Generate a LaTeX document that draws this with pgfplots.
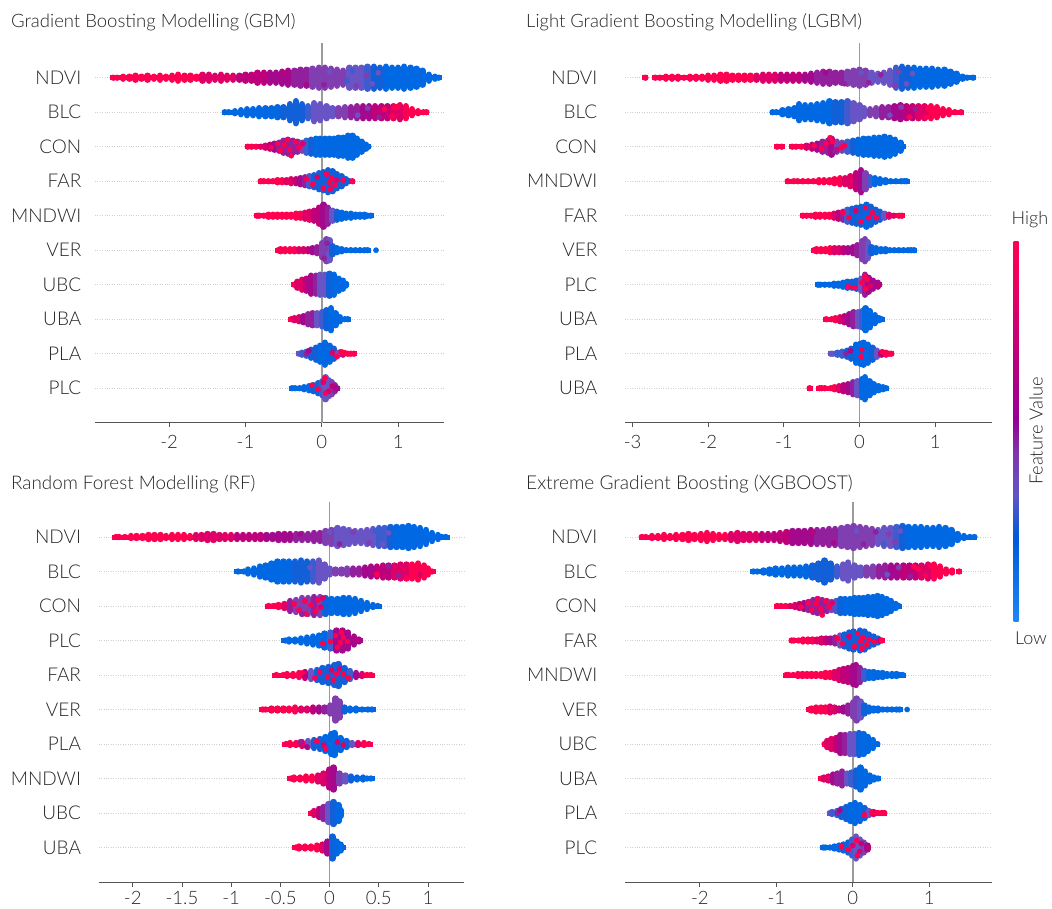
\documentclass[border=0pt]{standalone}
\usepackage{pgfplots}
\pgfplotsset{compat=1.18}
\usepackage{fontspec}
\setmainfont{Lato}[UprightFont=* Light]
\definecolor{c0}{RGB}{0,104,226}
\definecolor{c1}{RGB}{18,96,216}
\definecolor{c2}{RGB}{60,92,208}
\definecolor{c3}{RGB}{104,84,196}
\definecolor{c4}{RGB}{128,62,176}
\definecolor{c5}{RGB}{146,32,156}
\definecolor{c6}{RGB}{164,8,140}
\definecolor{c7}{RGB}{190,0,122}
\definecolor{c8}{RGB}{222,0,102}
\definecolor{c9}{RGB}{255,0,81}
\definecolor{axc}{RGB}{85,85,85}
\definecolor{zc}{RGB}{155,155,155}
\definecolor{b0}{RGB}{30,135,245}
\definecolor{b1}{RGB}{0,90,215}
\definecolor{b2}{RGB}{95,85,200}
\definecolor{b3}{RGB}{130,50,170}
\definecolor{b4}{RGB}{150,0,150}
\definecolor{b5}{RGB}{185,0,125}
\definecolor{b6}{RGB}{225,0,100}
\pgfplotsset{
 colormap={shapmap}{color(0)=(c0) color(1)=(c1) color(2)=(c2) color(3)=(c3) color(4)=(c4) color(5)=(c5) color(6)=(c6) color(7)=(c7) color(8)=(c8) color(9)=(c9)},
 swarmaxis/.style={
  scale only axis, height=380pt, ymin=0, ymax=380,
  point meta min=0, point meta max=9, colormap name=shapmap,
  axis x line*=bottom, axis y line*=left,
  y axis line style={draw=none},
  x axis line style={draw=axc,line width=.9pt,-},
  ytick={34.5,69,103.5,138,172.5,207,241.5,276,310.5,345},
  ymajorgrids, grid style={dash pattern=on .7pt off 1.7pt,line width=.7pt,gray!38},
  ytick style={draw=none}, xtick style={draw=axc,line width=.9pt},
  tick align=outside, major tick length=4.5pt,
  yticklabel style={font=\fontsize{19}{19}\selectfont,text=black!85,inner sep=0pt},
  xticklabel style={font=\fontsize{18.5}{19}\selectfont,text=black!85,inner sep=0pt},
  /pgf/number format/assume math mode=true,
  axis on top=false, clip=false, anchor=south west,
 },
}
\newcommand\swarm[2]{%
\addplot[point meta=explicit,quiver={u=.08,v=0,colored=mapped color,every arrow/.append style={-,line width=5pt,line cap=butt}}] table[row sep=\\,header=false,x expr={\thisrowno{0}-.04},y expr={#1*34.5},meta index=2] {#2};
\addplot[point meta=explicit,quiver={u=0,v=2*\thisrowno{1},colored=mapped color,every arrow/.append style={-,line width=6.4pt,line cap=round}}] table[row sep=\\,header=false,x index=0,y expr={#1*34.5-\thisrowno{1}},meta index=2] {#2};}
\newcommand\spk[2]{\addplot[scatter,only marks,mark=*,mark size=2.6pt,point meta=explicit,scatter/use mapped color={draw=mapped color,fill=mapped color}] table[row sep=\\,header=false,x index=0,y expr={#1*34.5+\thisrowno{1}},meta index=2] {#2};}
\newcommand\zline{\addplot[draw=zc,line width=1.8pt] coordinates {(0,0) (0,380)};}
\pgfdeclareverticalshading{fvbar}{100bp}{color(0bp)=(b0); color(25bp)=(b0); color(36bp)=(b1); color(41.5bp)=(b2); color(47.5bp)=(b3); color(51.5bp)=(b4); color(59.5bp)=(b5); color(67.5bp)=(b6); color(75bp)=(c9); color(100bp)=(c9)}
\begin{document}
\begin{tikzpicture}[x=1pt,y=1pt]
\path[use as bounding box] (0,0) rectangle (1052,-908);
\node[anchor=base west,inner sep=0pt,text=black!85] at (11,-27) {\fontsize{18.5}{19}\selectfont Gradient Boosting Modelling (GBM)};
\node[anchor=base west,inner sep=0pt,text=black!85] at (526,-27) {\fontsize{18.4}{19}\selectfont Light Gradient Boosting Modelling (LGBM)};
\node[anchor=base west,inner sep=0pt,text=black!85] at (11,-489) {\fontsize{18.8}{19}\selectfont Random Forest Modelling (RF)};
\node[anchor=base west,inner sep=0pt,text=black!85] at (526,-489) {\fontsize{19.1}{19}\selectfont Extreme Gradient Boosting (XGBOOST)};
% GBM
\begin{axis}[swarmaxis,at={(95pt,-422.7pt)},width=349pt,xmin=-2.97,xmax=1.6,xtick={-2,-1,0,1},
 xticklabel style={yshift=-7.5pt},
 yticklabels={PLC,PLA,UBA,UBC,VER,MNDWI,FAR,CON,BLC,NDVI},yticklabel style={xshift=-9pt}]
\zline
\swarm{10}{-2.73 0 9\\-2.68 0 9\\-2.6 1 9\\-2.52 1 9\\-2.44 2 9\\-2.36 1 9\\-2.28 2 9\\-2.2 1 9\\-2.12 2 9\\-2.04 1 9\\-1.96 2 9\\-1.88 3 9\\-1.8 2 9\\-1.72 2 9\\-1.64 1 9\\-1.56 3 8\\-1.48 3 8\\-1.4 2 8\\-1.32 3 8\\-1.24 2 8\\-1.16 2 8\\-1.08 2 7\\-1 3 7\\-.92 3 7\\-.84 5 7\\-.76 5 7\\-.68 5 6\\-.6 5 6\\-.52 6 6\\-.44 7 6\\-.36 7 5\\-.28 8 5\\-.2 8 5\\-.12 9 4\\-.04 10 4\\.04 10 4\\.12 9 4\\.2 8 4\\.28 7 4\\.36 10 3\\.44 10 3\\.52 10 3\\.6 11 2\\.68 11 1\\.76 10 1\\.84 11 0\\.92 10 0\\1 10 0\\1.08 11 0\\1.16 10 0\\1.24 9 0\\1.32 7 0\\1.4 3 0\\1.48 1 0\\1.53 0 0\\}
\spk{10}{-.5 5 7\\-.2 -7 6\\.1 6 3\\.03 -7 5\\.33 -3 2\\.4 7 2\\.45 -8 4\\.58 2 4\\.66 -6 3\\.74 5 3\\}
\swarm{9}{-1.27 0 0\\-1.22 0 0\\-1.14 1 0\\-1.06 2 0\\-.98 3 0\\-.9 3 0\\-.82 4 0\\-.74 4 0\\-.66 4 0\\-.58 5 0\\-.5 5 1\\-.42 8 1\\-.34 11 1\\-.26 8 1\\-.18 6 2\\-.1 9 3\\-.02 8 3\\.06 6 3\\.14 4 3\\.22 4 4\\.3 5 4\\.38 5 5\\.46 6 5\\.54 6 6\\.62 6 6\\.7 6 7\\.78 6 7\\.86 6 7\\.94 6 8\\1.02 7 8\\1.1 6 9\\1.18 3 9\\1.26 1 9\\1.33 0 9\\1.37 0 9\\}
\spk{9}{.47 -3 3\\.6 4 4\\.75 -5 5\\.82 3 9\\.92 -4 9\\1 6 9\\.95 5 9\\}
\swarm{8}{-.97 0 9\\-.92 0 9\\-.86 0 9\\-.8 0 8\\-.74 1 8\\-.68 2 7\\-.62 3 6\\-.56 4 5\\-.5 6 5\\-.44 7 5\\-.38 6 5\\-.32 5 5\\-.26 4 4\\-.2 6 2\\-.14 7 1\\-.08 8 0\\-.02 8 0\\.04 8 0\\.1 8 0\\.16 8 0\\.22 9 0\\.28 9 0\\.34 11 0\\.4 11 0\\.46 8 0\\.52 5 0\\.58 2 0\\.61 0 0\\}
\spk{8}{-.66 -1 9\\-.58 3 9\\-.54 -4 9\\-.49 2 9\\-.45 7 9\\-.42 -3 9\\-.4 -9 9\\-.34 5 9\\-.3 -1 9\\-.25 3 8\\}
\swarm{7}{-.8 0 9\\-.76 0 9\\-.7 0 9\\-.64 0 9\\-.58 1 9\\-.52 1 9\\-.46 1 8\\-.4 2 8\\-.34 2 7\\-.28 3 6\\-.22 4 5\\-.16 5 2\\-.1 6 1\\-.04 8 1\\.02 9 1\\.08 11 1\\.14 10 1\\.2 7 1\\.26 5 1\\.32 2 1\\.36 0 1\\.4 0 9\\}
\spk{7}{-.2 2 9\\-.12 -3 9\\-.06 4 8\\.02 -7 9\\.06 7 9\\.1 -1 9\\.13 3 9\\.11 -8 9\\.17 -4 9\\.19 1 8\\.28 1 9\\}
\swarm{6}{-.85 0 9\\-.82 0 9\\-.76 0 9\\-.7 1 9\\-.64 1 9\\-.58 1 9\\-.52 1 9\\-.46 1 9\\-.4 1 9\\-.34 2 9\\-.28 2 9\\-.22 3 8\\-.16 4 8\\-.1 5 7\\-.04 8 7\\.02 11 6\\.08 8 5\\.14 5 3\\.2 4 1\\.26 3 0\\.32 2 0\\.38 2 0\\.44 1 0\\.5 1 0\\.56 1 0\\.6 0 0\\.64 0 0\\}
\swarm{5}{-.57 0 9\\-.54 1 9\\-.48 1 9\\-.42 1 9\\-.36 1 9\\-.3 1 8\\-.24 1 8\\-.18 1 7\\-.12 2 6\\-.06 3 5\\0 7 4\\.06 11 4\\.1 10 3\\.14 4 1\\.2 2 0\\.26 1 0\\.32 0 0\\.38 0 0\\.44 0 0\\.5 0 0\\.56 0 0\\.6 0 0\\}
\spk{5}{.71 0 0\\.03 -8 5\\.07 7 5\\.05 1 4\\}
\swarm{4}{-.36 0 9\\-.32 3 8\\-.26 5 8\\-.2 6 7\\-.14 9 6\\-.08 9 5\\-.02 10 3\\.04 10 3\\.1 11 1\\.16 10 0\\.22 6 0\\.28 4 0\\.31 1 0\\}
\swarm{3}{-.4 0 9\\-.36 1 8\\-.3 2 8\\-.24 3 6\\-.18 5 5\\-.12 6 5\\-.06 6 3\\0 7 2\\.06 9 1\\.12 11 0\\.18 6 0\\.24 2 0\\.3 0 0\\.34 0 0\\}
\swarm{2}{-.3 0 3\\-.26 1 2\\-.2 2 2\\-.14 4 1\\-.08 6 1\\-.02 8 0\\.04 11 0\\.1 8 0\\.16 5 1\\.22 1 3\\.28 1 8\\.34 0 9\\.38 0 9\\.42 0 9\\}
\spk{2}{-.2 0 5\\-.17 3 6\\.14 1 8\\.25 2 9\\.2 -3 9\\.3 1 9\\}
\swarm{1}{-.39 0 0\\-.35 0 0\\-.29 0 0\\-.23 1 0\\-.17 2 0\\-.11 3 1\\-.05 5 1\\.01 7 2\\.05 11 3\\.09 8 3\\.13 6 4\\.17 3 5\\.2 0 6\\}
\spk{1}{-.13 3 9\\-.05 -1 9\\.02 6 8\\.05 -5 9\\.09 -3 8\\.14 2 7\\.04 10 9\\}
\end{axis}
% LGBM
\begin{axis}[swarmaxis,at={(625pt,-422.7pt)},width=367pt,xmin=-3.1,xmax=1.75,xtick={-3,-2,-1,0,1},
 xticklabel style={yshift=-7.5pt},
 yticklabels={UBA,PLA,UBA,PLC,VER,FAR,MNDWI,CON,BLC,NDVI},yticklabel style={xshift=-23pt}]
\zline
\swarm{10}{-2.83 0 9\\-2.7 0 9\\-2.64 0 9\\-2.56 1 9\\-2.48 1 9\\-2.4 1 9\\-2.32 0 9\\-2.24 1 9\\-2.16 1 9\\-2.08 1 9\\-2 2 9\\-1.92 2 9\\-1.84 3 9\\-1.76 3 9\\-1.68 2 9\\-1.6 2 9\\-1.52 2 9\\-1.44 2 9\\-1.36 2 8\\-1.28 3 8\\-1.2 3 8\\-1.12 3 8\\-1.04 3 7\\-.96 3 7\\-.88 3 7\\-.8 3 7\\-.72 3 6\\-.64 4 6\\-.56 5 5\\-.48 6 5\\-.4 6 5\\-.32 5 5\\-.24 5 5\\-.16 6 4\\-.08 7 4\\0 8 4\\.08 7 4\\.16 5 3\\.24 4 3\\.32 5 3\\.4 7 3\\.48 10 2\\.56 11 1\\.64 10 1\\.72 10 0\\.8 9 0\\.88 9 0\\.96 9 0\\1.04 8 0\\1.12 8 0\\1.2 6 0\\1.28 4 0\\1.36 1 0\\1.42 0 0\\1.5 0 0\\}
\spk{10}{-.45 5 6\\-.2 -6 5\\.02 5 3\\.12 -5 5\\.28 3 5\\.46 -8 4\\.52 6 4\\.62 -6 3\\.7 4 3\\}
\swarm{9}{-1.15 0 0\\-1.1 0 0\\-1.02 2 0\\-.94 3 0\\-.86 4 0\\-.8 8 0\\-.72 7 0\\-.64 7 0\\-.56 8 0\\-.48 9 0\\-.4 11 0\\-.32 10 1\\-.24 10 1\\-.16 11 2\\-.08 9 3\\0 7 3\\.06 4 3\\.14 3 4\\.22 4 4\\.3 5 5\\.38 5 5\\.46 6 6\\.54 7 6\\.62 6 7\\.7 6 7\\.78 6 8\\.86 6 8\\.94 6 9\\1.02 5 9\\1.1 3 9\\1.18 2 9\\1.26 0 9\\1.34 0 9\\}
\spk{9}{.4 -3 3\\.55 5 4\\.66 -5 9\\.74 3 5\\.88 -5 9\\.9 4 9\\}
\swarm{8}{-1.09 0 9\\-1.03 0 9\\-.89 0 9\\-.84 0 9\\-.77 0 9\\-.7 1 8\\-.63 2 7\\-.56 3 6\\-.49 5 5\\-.42 6 5\\-.37 8 6\\-.3 5 4\\-.23 4 4\\-.16 5 2\\-.09 6 1\\-.02 7 0\\.05 8 0\\.12 8 0\\.19 9 0\\.26 9 0\\.33 10 0\\.4 9 0\\.47 7 0\\.54 4 0\\.57 0 0\\}
\spk{8}{-.6 1 9\\-.5 -2 9\\-.44 3 9\\-.39 9 9\\-.36 5 9\\-.3 -3 8\\-.24 -1 9\\-.2 1 9\\-.33 -5 5\\}
\swarm{7}{-.95 0 9\\-.87 0 9\\-.82 0 9\\-.75 0 9\\-.68 0 9\\-.61 0 9\\-.54 1 9\\-.47 1 9\\-.4 1 9\\-.33 2 9\\-.26 3 9\\-.19 3 8\\-.12 5 8\\-.05 8 7\\.02 11 6\\.08 8 4\\.14 4 2\\.2 3 0\\.27 2 0\\.34 1 0\\.41 0 0\\.48 0 0\\.55 0 0\\.59 0 0\\.62 0 0\\}
\swarm{6}{-.75 0 9\\-.7 0 9\\-.64 0 9\\-.58 1 9\\-.52 1 9\\-.46 1 9\\-.4 1 9\\-.34 2 8\\-.28 3 7\\-.22 4 5\\-.16 6 2\\-.1 7 1\\-.04 8 1\\.02 9 1\\.09 11 0\\.15 9 1\\.21 6 1\\.27 4 1\\.33 2 3\\.39 1 8\\.45 0 8\\.52 0 9\\.56 0 9\\}
\spk{6}{-.22 3 9\\-.14 -2 9\\-.05 5 8\\.02 -6 9\\.08 8 9\\.12 -2 9\\.17 3 9\\.22 -2 9\\}
\swarm{5}{-.6 0 9\\-.57 1 9\\-.51 1 9\\-.45 1 9\\-.39 2 9\\-.33 2 8\\-.27 2 8\\-.21 2 7\\-.15 2 6\\-.09 3 6\\-.03 5 5\\.03 9 4\\.07 11 4\\.11 8 3\\.16 3 1\\.22 2 0\\.28 1 0\\.34 1 0\\.4 0 0\\.46 0 0\\.52 0 0\\.58 0 0\\.64 0 0\\.68 0 0\\.72 0 0\\}
\swarm{4}{-.55 0 0\\-.52 0 0\\-.46 0 0\\-.4 0 0\\-.34 1 0\\-.28 1 0\\-.22 2 0\\-.16 3 0\\-.1 3 1\\-.04 4 1\\.02 6 3\\.07 10 5\\.12 7 6\\.18 4 6\\.24 2 6\\.26 0 7\\}
\spk{4}{-.15 -2 9\\-.07 -3 9\\.03 2 9\\.08 -4 9\\.1 5 9\\.14 -1 8\\.07 8 9\\}
\swarm{3}{-.44 0 9\\-.37 0 9\\-.32 1 9\\-.26 2 8\\-.2 3 7\\-.14 5 6\\-.08 7 5\\-.02 7 3\\.03 8 2\\.08 11 0\\.14 8 0\\.2 4 0\\.26 1 0\\.29 0 0\\}
\swarm{2}{-.38 0 3\\-.35 0 3\\-.29 1 2\\-.23 2 2\\-.17 3 1\\-.11 5 1\\-.05 9 0\\.01 10 0\\.05 11 0\\.11 9 0\\.17 6 1\\.23 3 3\\.29 1 7\\.35 1 9\\.39 0 9\\.42 0 9\\}
\spk{2}{-.18 0 5\\-.12 3 6\\.02 -3 9\\.03 4 9\\.3 2 9\\}
\swarm{1}{-.66 0 9\\-.53 0 9\\-.5 0 9\\-.46 0 9\\-.38 0 9\\-.33 1 9\\-.27 2 8\\-.21 3 7\\-.15 4 6\\-.09 6 5\\-.03 7 3\\.03 9 0\\.07 11 0\\.13 7 0\\.19 4 0\\.25 2 0\\.31 1 0\\.35 0 0\\}
\end{axis}
% RF
\begin{axis}[swarmaxis,at={(98.7pt,-882pt)},width=365pt,xmin=-2.346,xmax=1.363,xtick={-2,-1.5,-1,-0.5,0,0.5,1},
 xticklabels={-2,-1.5,-1,-0.5,0,0.5,1},xticklabel style={yshift=-5pt},
 yticklabels={UBA,UBC,MNDWI,PLA,VER,FAR,PLC,CON,BLC,NDVI},yticklabel style={xshift=-13pt}]
\zline
\swarm{10}{-2.17 0 9\\-2.14 0 9\\-2.08 0 9\\-2.02 1 9\\-1.96 1 9\\-1.9 1 9\\-1.84 2 9\\-1.78 2 9\\-1.72 2 9\\-1.66 1 9\\-1.6 2 9\\-1.54 2 9\\-1.48 2 9\\-1.42 1 9\\-1.36 2 8\\-1.3 2 8\\-1.24 3 8\\-1.18 3 8\\-1.12 2 8\\-1.06 2 8\\-1 2 8\\-.94 2 7\\-.88 2 7\\-.82 2 7\\-.76 2 7\\-.7 2 7\\-.64 2 6\\-.58 2 6\\-.52 3 6\\-.46 3 6\\-.4 3 6\\-.34 3 5\\-.28 3 5\\-.22 3 5\\-.16 4 5\\-.1 4 5\\-.04 6 4\\.02 7 4\\.08 9 3\\.14 8 3\\.2 7 3\\.26 6 3\\.32 6 3\\.38 7 3\\.44 8 3\\.5 9 2\\.56 9 2\\.62 10 1\\.68 10 0\\.74 10 0\\.8 11 0\\.86 10 0\\.92 9 0\\.98 7 0\\1.04 4 0\\1.1 2 0\\1.14 0 0\\1.18 0 0\\}
\spk{10}{-.3 3 6\\.0 5 3\\.1 -7 5\\.24 5 4\\.4 -6 4\\.46 6 2\\.54 -7 3\\.6 4 3\\}
\swarm{9}{-.93 0 0\\-.87 0 0\\-.83 2 0\\-.77 3 0\\-.71 5 0\\-.65 6 0\\-.59 8 0\\-.53 10 0\\-.47 10 0\\-.41 10 0\\-.35 10 1\\-.29 11 1\\-.23 10 1\\-.17 10 2\\-.11 11 3\\-.05 7 3\\0 3 3\\.06 2 4\\.12 2 4\\.18 3 4\\.24 3 5\\.3 3 5\\.36 4 6\\.42 5 6\\.48 5 7\\.54 6 7\\.6 6 7\\.66 6 8\\.72 7 8\\.78 7 8\\.84 7 9\\.9 8 9\\.96 6 9\\1 3 9\\1.04 0 9\\}
\spk{9}{-.2 4 3\\.48 -3 9\\.6 5 5\\.7 -4 5\\.78 -7 9\\.82 5 9\\.92 -3 8\\}
\swarm{8}{-.62 0 9\\-.56 0 9\\-.52 1 9\\-.46 2 8\\-.4 5 5\\-.34 6 4\\-.28 8 4\\-.22 8 4\\-.16 9 5\\-.1 9 4\\-.04 8 1\\.02 7 0\\.08 7 0\\.14 8 0\\.2 8 0\\.26 7 0\\.32 5 0\\.38 3 0\\.44 1 0\\.49 0 0\\}
\spk{8}{-.58 0 9\\-.36 2 9\\-.31 -4 9\\-.25 5 9\\-.24 -8 9\\-.19 1 9\\-.14 -5 9\\-.12 6 9\\-.09 -1 8\\-.07 8 8\\-.28 -8 5\\}
\swarm{7}{-.45 0 0\\-.41 1 0\\-.35 1 0\\-.29 2 0\\-.23 3 0\\-.17 4 0\\-.11 5 0\\-.05 7 0\\.01 8 2\\.07 10 6\\.13 10 6\\.19 8 6\\.25 4 6\\.3 1 6\\}
\spk{7}{-.07 -3 9\\.01 -1 9\\.06 5 9\\.08 -7 9\\.11 -2 9\\.14 3 9\\.18 -1 9\\.12 8 9\\.28 1 7\\}
\swarm{6}{-.54 0 9\\-.47 0 9\\-.43 1 9\\-.37 1 9\\-.31 2 9\\-.25 3 7\\-.19 4 3\\-.13 5 1\\-.07 7 1\\-.01 8 1\\.05 10 1\\.09 11 1\\.15 7 1\\.21 4 2\\.27 2 6\\.33 1 8\\.38 0 9\\.42 0 9\\}
\spk{6}{-.28 2 9\\-.15 -3 9\\-.1 3 9\\-.02 -2 9\\.04 -5 9\\.07 1 9\\.1 6 8\\.14 1 9\\.19 -3 9\\.02 5 8\\}
\swarm{5}{-.68 0 9\\-.65 0 9\\-.59 1 9\\-.53 1 9\\-.47 1 9\\-.41 1 9\\-.35 2 9\\-.29 1 8\\-.23 1 8\\-.17 2 7\\-.11 2 6\\-.05 2 5\\.01 4 4\\.06 11 4\\.1 8 4\\.15 2 1\\.21 1 0\\.27 1 0\\.33 0 0\\.39 0 0\\.43 0 0\\}
\swarm{4}{-.44 0 9\\-.4 1 9\\-.34 1 9\\-.28 2 8\\-.22 3 3\\-.16 4 1\\-.1 5 1\\-.04 7 0\\.02 10 0\\.05 11 0\\.11 6 0\\.17 3 1\\.23 1 3\\.29 1 8\\.35 1 9\\.4 0 9\\}
\spk{4}{-.3 2 5\\-.23 -3 6\\-.13 3 9\\-.06 -1 8\\-.04 -5 9\\.08 2 8\\.14 -1 8\\}
\swarm{3}{-.39 0 9\\-.36 1 9\\-.3 1 9\\-.24 2 9\\-.18 2 9\\-.12 3 8\\-.06 5 8\\0 9 7\\.04 11 6\\.1 5 4\\.16 3 3\\.22 2 1\\.28 1 0\\.34 1 0\\.38 0 0\\.42 0 0\\}
\swarm{2}{-.18 0 9\\-.16 2 8\\-.11 4 7\\-.06 6 5\\-.01 9 3\\.04 11 1\\.09 8 0\\.11 3 0\\}
\swarm{1}{-.34 0 9\\-.31 1 9\\-.25 1 9\\-.19 1 9\\-.13 2 9\\-.07 3 8\\-.02 6 6\\.03 11 1\\.07 6 0\\.11 3 0\\.13 0 0\\}
\end{axis}
% XGB
\begin{axis}[swarmaxis,at={(625pt,-882pt)},width=367pt,xmin=-2.98,xmax=1.82,xtick={-2,-1,0,1},
 xticklabel style={yshift=-5pt},
 yticklabels={PLC,PLA,UBA,UBC,VER,MNDWI,FAR,CON,BLC,NDVI},yticklabel style={xshift=-23pt}]
\zline
\swarm{10}{-2.76 0 9\\-2.71 0 9\\-2.63 1 9\\-2.55 1 9\\-2.47 2 9\\-2.39 1 9\\-2.31 2 9\\-2.23 2 9\\-2.15 3 9\\-2.07 2 9\\-1.99 3 9\\-1.91 4 9\\-1.83 3 9\\-1.75 2 9\\-1.67 2 9\\-1.59 3 8\\-1.51 4 8\\-1.43 3 8\\-1.35 3 8\\-1.27 3 8\\-1.19 3 7\\-1.11 3 7\\-1.03 3 7\\-.95 4 7\\-.87 5 7\\-.79 6 6\\-.71 6 6\\-.63 6 6\\-.55 7 6\\-.47 7 5\\-.39 7 5\\-.31 8 5\\-.23 8 5\\-.15 9 4\\-.07 10 4\\.01 11 4\\.09 10 4\\.17 9 4\\.25 8 4\\.33 7 3\\.41 9 3\\.49 9 3\\.57 10 2\\.65 11 1\\.73 10 0\\.81 10 0\\.89 10 0\\.97 9 0\\1.05 9 0\\1.13 10 0\\1.21 9 0\\1.29 7 0\\1.37 3 0\\1.45 1 0\\1.53 0 0\\1.59 0 0\\}
\spk{10}{-.52 5 7\\-.25 -6 6\\.05 6 3\\.14 -7 5\\.3 5 5\\.4 -7 2\\.47 3 4\\.55 -5 4\\.62 6 3\\}
\swarm{9}{-1.3 0 0\\-1.25 0 0\\-1.17 1 0\\-1.09 2 0\\-1.01 3 0\\-.93 3 0\\-.85 4 0\\-.77 4 0\\-.69 4 0\\-.61 5 0\\-.53 6 1\\-.45 8 1\\-.37 11 1\\-.29 8 1\\-.21 5 2\\-.13 7 3\\-.06 9 3\\.02 6 3\\.1 4 3\\.18 4 4\\.26 5 4\\.34 5 5\\.42 6 5\\.5 6 6\\.58 6 6\\.66 6 7\\.74 6 7\\.82 6 7\\.9 6 8\\.98 7 8\\1.06 7 9\\1.14 5 9\\1.22 2 9\\1.3 1 9\\1.39 0 9\\}
\spk{9}{.45 -3 3\\.6 4 4\\.75 -5 5\\.85 3 9\\.95 -4 9\\1.02 6 9\\.8 5 9\\}
\swarm{8}{-.99 0 9\\-.94 0 9\\-.88 0 9\\-.82 0 8\\-.76 1 8\\-.7 2 7\\-.64 3 6\\-.58 4 5\\-.52 6 5\\-.46 7 5\\-.4 6 5\\-.34 5 5\\-.28 4 4\\-.22 5 2\\-.16 7 1\\-.1 7 0\\-.04 7 0\\.02 8 0\\.08 8 0\\.14 8 0\\.2 9 0\\.26 9 0\\.32 10 0\\.38 9 0\\.44 7 0\\.5 5 0\\.56 2 0\\.6 0 0\\}
\spk{8}{-.68 -1 9\\-.58 3 9\\-.54 -4 9\\-.48 2 9\\-.46 7 9\\-.42 -3 9\\-.4 -9 9\\-.35 5 9\\-.31 -1 9\\-.27 3 8\\}
\swarm{7}{-.8 0 9\\-.77 0 9\\-.71 0 9\\-.65 1 9\\-.59 1 9\\-.53 1 9\\-.47 1 8\\-.41 2 8\\-.35 2 7\\-.29 2 6\\-.23 3 5\\-.17 5 3\\-.11 6 1\\-.05 8 1\\.01 9 1\\.09 10 1\\.15 9 1\\.21 6 1\\.27 4 1\\.33 2 1\\.36 0 7\\.38 0 9\\}
\spk{7}{-.2 2 9\\-.14 -3 9\\-.05 4 8\\.02 -6 9\\.06 7 9\\.1 -1 9\\.13 3 9\\.12 -8 9\\.18 -4 9\\.21 1 9\\.28 -1 9\\}
\swarm{6}{-.87 0 9\\-.84 0 9\\-.78 0 9\\-.72 1 9\\-.66 1 9\\-.6 1 9\\-.54 1 9\\-.48 1 9\\-.42 1 9\\-.36 2 9\\-.3 2 9\\-.24 3 8\\-.18 5 8\\-.12 6 7\\-.06 7 7\\0 9 6\\.04 10 6\\.09 7 5\\.15 4 2\\.21 3 0\\.27 3 0\\.33 2 0\\.39 2 0\\.45 1 0\\.51 1 0\\.57 1 0\\.61 0 0\\.65 0 0\\}
\swarm{5}{-.57 0 9\\-.54 1 9\\-.48 2 9\\-.42 2 9\\-.36 2 9\\-.3 3 8\\-.24 2 8\\-.18 1 7\\-.12 2 6\\-.06 4 5\\0 7 4\\.05 11 4\\.1 8 3\\.15 4 1\\.21 2 0\\.27 1 0\\.33 1 0\\.39 0 0\\.45 0 0\\.51 0 0\\.57 0 0\\.61 0 0\\}
\spk{5}{.71 0 0\\}
\swarm{4}{-.37 0 9\\-.34 3 8\\-.28 5 8\\-.22 6 7\\-.16 9 6\\-.1 9 5\\-.04 10 3\\.02 10 3\\.08 11 1\\.14 10 0\\.2 7 0\\.26 4 0\\.32 0 0\\}
\swarm{3}{-.41 0 9\\-.38 1 8\\-.32 2 8\\-.26 4 6\\-.2 5 5\\-.14 7 5\\-.08 5 3\\-.02 6 2\\.04 8 1\\.1 11 0\\.16 7 0\\.22 3 0\\.28 1 0\\.33 0 0\\}
\swarm{2}{-.3 0 3\\-.27 1 2\\-.21 2 2\\-.15 4 1\\-.09 6 1\\-.03 8 0\\.03 10 0\\.09 8 0\\.15 5 1\\.21 2 3\\.27 1 8\\.33 0 9\\.38 0 9\\.41 0 9\\}
\spk{2}{-.2 0 5\\-.17 3 6\\.15 -2 9\\.25 1 9\\.31 0 9\\}
\swarm{1}{-.39 0 0\\-.36 0 0\\-.3 0 0\\-.24 1 0\\-.18 2 0\\-.12 3 1\\-.06 5 1\\-.01 8 2\\.04 11 3\\.09 8 3\\.14 5 4\\.19 2 6\\.2 0 7\\}
\spk{1}{-.15 1 9\\-.06 -2 9\\.0 2 8\\.05 7 9\\.09 -4 8\\.11 4 7\\.06 -8 9\\}
\end{axis}
% colour bar
\shade[shading=fvbar] (1013.5,-621) rectangle (1018.5,-241);
\node[text=black!85,inner sep=0pt] at (1030,-220) {\fontsize{18}{19}\selectfont High};
\node[text=black!85,inner sep=0pt] at (1031,-638) {\fontsize{18}{19}\selectfont Low};
\node[text=black!85,inner sep=0pt,rotate=90] at (1036,-431) {\fontsize{18.3}{19}\selectfont Feature Value};
\end{tikzpicture}
\end{document}
